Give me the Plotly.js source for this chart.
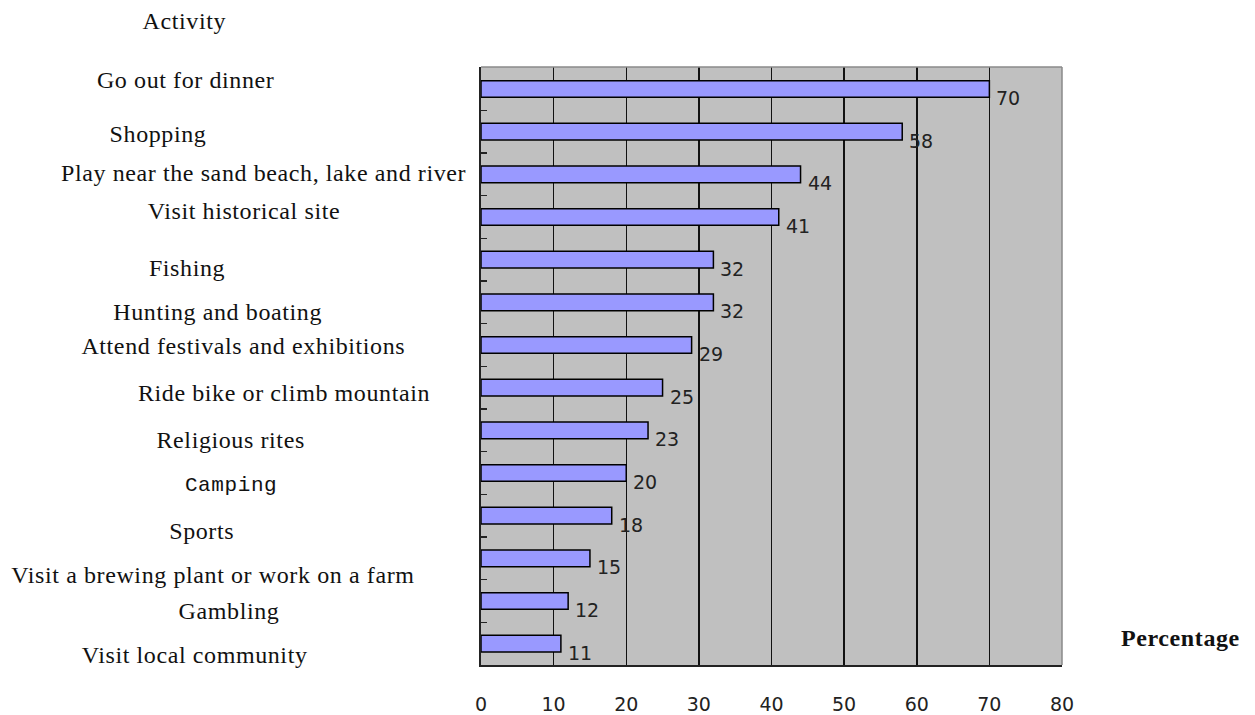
<!DOCTYPE html>
<html><head><meta charset="utf-8">
<script src="https://cdn.plot.ly/plotly-3.0.1.min.js"></script>
<style>body{margin:0;background:#fff}#c{width:1255px;height:715px}
.annotation-text.lbl{letter-spacing:0.6px}</style>
</head><body><div id="c"></div>
<script>
const categories = ["Go out for dinner","Shopping","Play near the sand beach, lake and river","Visit historical site","Fishing","Hunting and boating","Attend festivals and exhibitions","Ride bike or climb mountain","Religious rites","Camping","Sports","Visit a brewing plant or work on a farm","Gambling","Visit local community"];
const percentages = [70,58,44,41,32,32,29,25,23,20,18,15,12,11];
const xTicks = [0,10,20,30,40,50,60,70,80];
const yTitle = "Activity";
const xTitle = "Percentage";

// label placement (pixel centers in the page)
const labelPx = [[185,80],[158,134],[263,173],[244,211],[187,268],[217,312],[243,346],[284,393],[230,440],[231,485],[201,531],[213,575],[229,611],[194,655]];
const L=481, R=1062, T=67, B=665;
const px2x = p => (p-L)/(R-L);
const py2y = p => (B-p)/(B-T);

const serif = {family:"Liberation Serif, Times New Roman, serif", size:24, color:"#111"};
const ann = [];
categories.forEach((c,i)=>{
  const f = (c==="Camping") ? {family:"Liberation Mono, monospace", size:21, color:"#111"} : serif;
  ann.push({text:c, xref:"paper", yref:"paper", x:px2x(labelPx[i][0]), y:py2y(labelPx[i][1]), xanchor:"center", yanchor:"middle", showarrow:false, font:f});
});
ann.push({text:yTitle, xref:"paper", yref:"paper", x:px2x(184), y:py2y(21), xanchor:"center", yanchor:"middle", showarrow:false, font:serif});
ann.push({text:"<b>"+xTitle+"</b>", xref:"paper", yref:"paper", x:px2x(1180), y:py2y(638), xanchor:"center", yanchor:"middle", showarrow:false, font:{family:"Liberation Serif, serif", size:24, color:"#111"}});
const nLbl = ann.length;
categories.forEach((c,i)=>{
  ann.push({text:String(percentages[i]), x:percentages[i], y:c, xref:"x", yref:"y", xanchor:"left", yanchor:"middle", xshift:5, yshift:-9, showarrow:false, font:{family:"DejaVu Sans, sans-serif", size:19, color:"#222"}});
});

const trace = {type:"bar", orientation:"h", x:percentages, y:categories,
  marker:{color:"#9999ff", line:{color:"#000", width:1.5}}, hoverinfo:"skip"};

const layout = {
  width:1255, height:715, margin:{l:L, r:1255-R, t:T, b:715-B},
  paper_bgcolor:"#fff", plot_bgcolor:"#c0c0c0", showlegend:false, bargap:0.61,
  xaxis:{range:[0,80], tickvals:xTicks, ticktext:xTicks.map(String), showgrid:true, gridcolor:"#111", gridwidth:1.5,
    zeroline:false, showline:true, linecolor:"#222", linewidth:2, ticks:"", ticklabelstandoff:21,
    tickfont:{family:"DejaVu Sans, sans-serif", size:19, color:"#222"}, fixedrange:true},
  yaxis:{type:"category", autorange:"reversed", showticklabels:false, showgrid:false, zeroline:false,
    showline:true, linecolor:"#222", linewidth:2, ticks:"inside", tickson:"boundaries", ticklen:6, tickcolor:"#222", tickwidth:1.5, fixedrange:true},
  shapes:[
    {type:"line", xref:"paper", yref:"paper", x0:0, x1:1, y0:1, y1:1, line:{color:"#8a8a8a", width:1.5}},
    {type:"line", xref:"paper", yref:"paper", x0:1, x1:1, y0:0, y1:1, line:{color:"#8a8a8a", width:1.5}}
  ],
  annotations:ann
};
Plotly.newPlot("c",[trace],layout,{staticPlot:true}).then(()=>{
  document.querySelectorAll(".annotation").forEach((g,i)=>{
    if(i<nLbl){ const t=g.querySelector(".annotation-text"); if(t) t.style.letterSpacing="0.6px"; }
  });
});
</script></body></html>
